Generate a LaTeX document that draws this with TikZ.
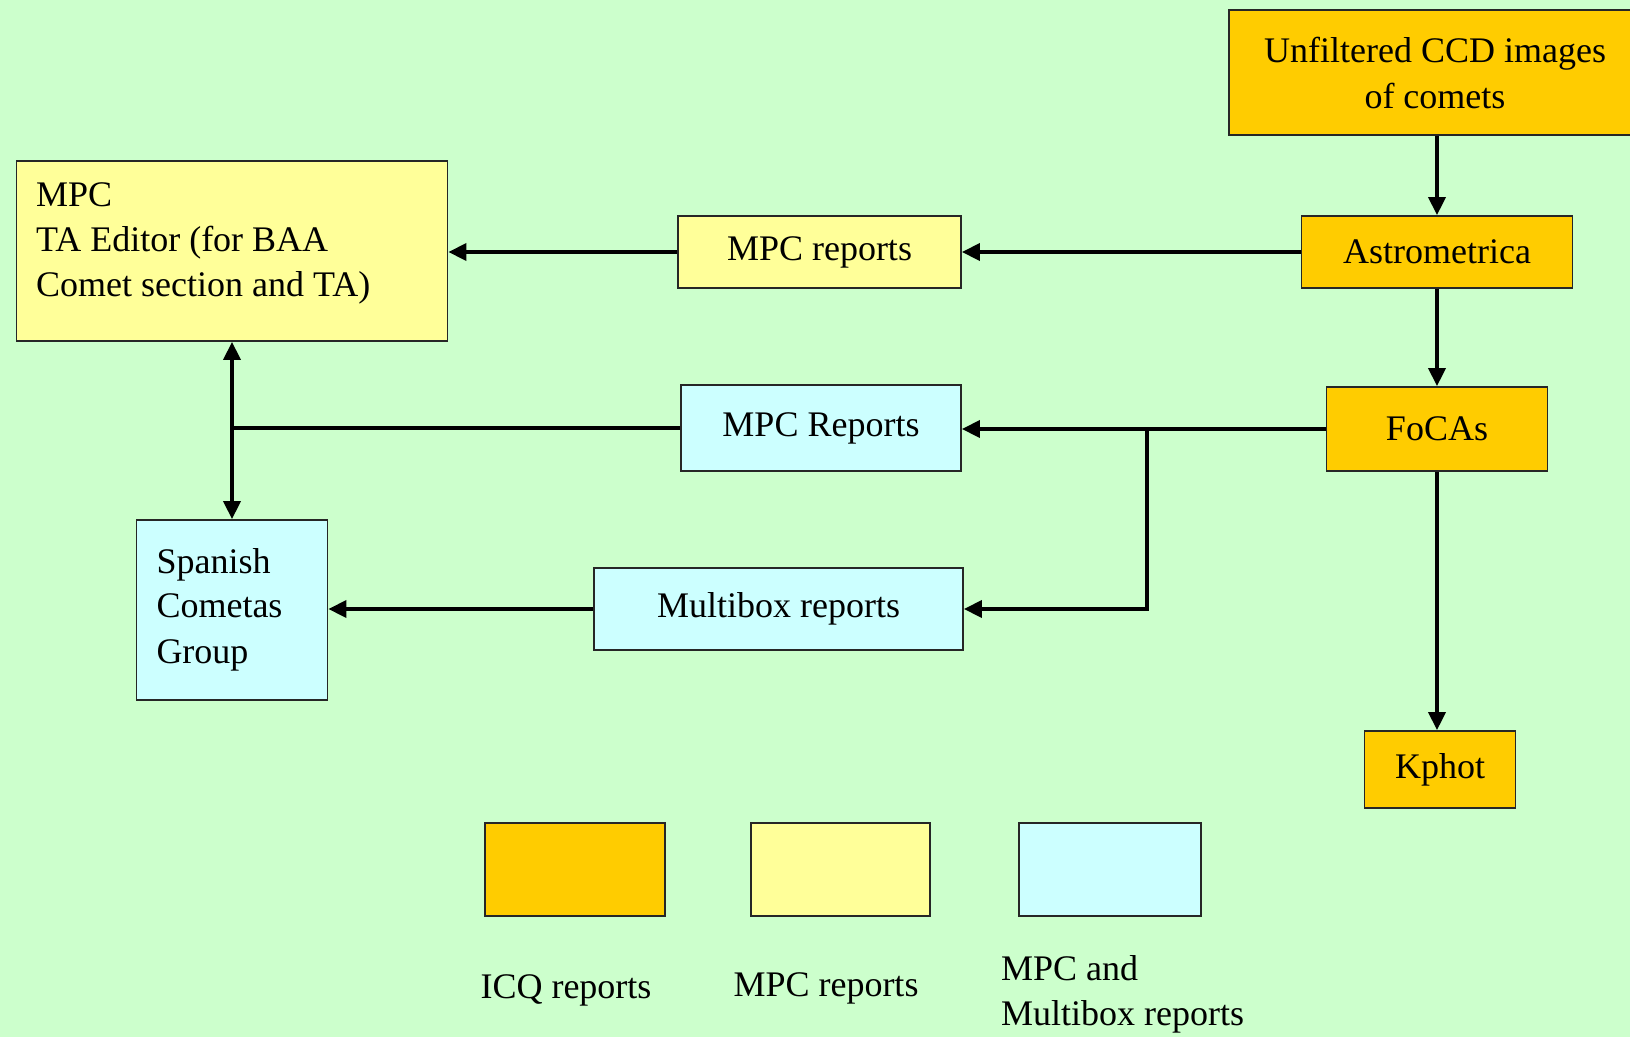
\documentclass[tikz,border=0pt]{standalone}
\usepackage{fontspec}
\setmainfont{Liberation Serif}
\usepackage{xcolor}
\usetikzlibrary{positioning,calc,arrows.meta}
\definecolor{bggreen}{HTML}{CCFFCC}
\definecolor{icqorange}{HTML}{FFCC00}
\definecolor{mpcyellow}{HTML}{FFFF99}
\definecolor{multicyan}{HTML}{CCFFFF}

\begin{document}
\begin{tikzpicture}[x=1pt,y=-1pt,
		box/.style={draw=black!85,line width=1.8pt,inner sep=0pt,font=\fontsize{36}{46}\selectfont},
		icq/.style={box,fill=icqorange},
		mpcb/.style={box,fill=mpcyellow},
		mulb/.style={box,fill=multicyan},
		txt/.style={inner sep=0pt,font=\fontsize{36}{45}\selectfont},
		link/.style={line width=3.6pt},
		flow/.style={link,-{Triangle[length=18pt,width=17pt]}}]
		\useasboundingbox (0,0) rectangle (1630,1037);
		\fill[bggreen] (0,0) rectangle (1630,1037);
		% sources and programs
		\node[icq,minimum width=412,minimum height=125,align=center] (unf) at (1435,72.5) {Unfiltered CCD images\\of comets};
		\node[icq,minimum width=271,minimum height=72] (astro) at (1437,252) {Astrometrica};
		\node[icq,minimum width=221,minimum height=84] (focas) at (1437,429) {FoCAs};
		\node[icq,minimum width=151,minimum height=77] (kphot) at (1440,769.5) {Kphot};
		% reports
		\node[mpcb,minimum width=283,minimum height=72] (mpcrep) at (819.5,252) {MPC reports};
		\node[mulb,minimum width=280,minimum height=86] (mpcrepb) at (821,428) {MPC Reports};
		\node[mulb,minimum width=369,minimum height=82] (multi) at (778.5,609) {Multibox reports};
		% receivers
		\node[mpcb,minimum width=431,minimum height=180] (mpc) at (232,251) {};
		\node[txt,anchor=north west,align=left] (mpctxt) at (36,182) {MPC\\TA Editor (for BAA\\Comet section and TA)};
		\node[mulb,minimum width=191,minimum height=180,text width=151,align=left] (spanish) at (232,610) {\fontsize{36}{44.5}\selectfont Spanish\\Cometas\\Group};
		% legend
		\node[icq,minimum width=180,minimum height=93] (keyicq) at (575,869.5) {};
		\node[mpcb,minimum width=179,minimum height=93] (keympc) at (840.5,869.5) {};
		\node[mulb,minimum width=182,minimum height=93] (keymul) at (1110,869.5) {};
		\node[txt] (icqlab) at (566,990) {ICQ reports};
		\node[txt] (mpclab) at (826,988) {MPC reports};
		\node[txt,anchor=west,align=left] (mullab) at (1001,994.5) {MPC and\\Multibox reports};
		% connectors
		\coordinate (br) at (1147,429);
		\draw[flow] (astro.north |- unf.south) -- (astro.north);
		\draw[flow] (astro.west) -- (mpcrep.east);
		\draw[flow] (mpcrep.west) -- (mpcrep.west -| mpc.east);
		\draw[flow] (astro.south) -- (astro.south |- focas.north);
		\draw[flow] (focas.south) -- (focas.south |- kphot.north);
		\draw[flow] (focas.west) -- (focas.west -| mpcrepb.east);
		\draw[flow] (br) |- (multi.east);
		\draw[link] (mpcrepb.west) -- (mpcrepb.west -| mpc.south);
		\draw[link,{Triangle[length=18pt,width=17pt]}-{Triangle[length=18pt,width=17pt]}] (mpc.south) -- (spanish.north);
		\draw[flow] (multi.west) -- (multi.west -| spanish.east);
	\end{tikzpicture}
\end{document}
